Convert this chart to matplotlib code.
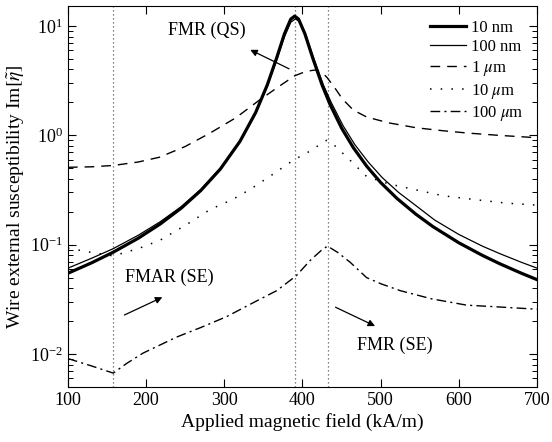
import matplotlib

matplotlib.use("Agg")
import matplotlib.pyplot as plt
from matplotlib.ticker import LogLocator, FixedLocator, NullFormatter

plt.rcParams["font.family"] = ["Liberation Serif", "DejaVu Serif"]
plt.rcParams["mathtext.fontset"] = "stix"

# 10 nm (thick solid)
x_10nm = [100, 130, 158, 190, 218, 245, 270, 295, 320, 340, 355, 367, 377, 385,
          390, 395, 403, 413, 425, 435, 450, 465, 482, 500, 521, 545, 567, 600,
          630, 652, 680, 700]
y_10nm = [0.0548, 0.0681, 0.0854, 0.1146, 0.1545, 0.216, 0.313, 0.492, 0.879,
          1.61, 2.89, 5.11, 8.49, 11.53, 12.3, 11.53, 8.49, 5.11, 2.89, 1.93,
          1.164, 0.771, 0.523, 0.370, 0.264, 0.190, 0.146, 0.104, 0.0799,
          0.0671, 0.0548, 0.0479]

# 100 nm (thin solid)
x_100nm = [100, 130, 158, 190, 218, 245, 270, 295, 320, 340, 355, 367, 377, 385,
           391, 397, 405, 415, 427, 437, 452, 467, 484, 502, 523, 547, 569, 600,
           630, 652, 680, 700]
y_100nm = [0.061, 0.075, 0.092, 0.122, 0.162, 0.223, 0.32, 0.50, 0.88, 1.58,
           2.8, 4.9, 8.0, 10.8, 11.6, 10.8, 8.0, 4.9, 2.85, 1.98, 1.22, 0.82,
           0.57, 0.41, 0.30, 0.222, 0.168, 0.124, 0.097, 0.083, 0.069, 0.061]

# 1 um (dashed)
x_1um = [100, 130, 158, 190, 217, 250, 282, 315, 345, 370, 390, 405, 416, 425,
         431, 440, 451, 465, 482, 510, 546, 580, 610, 650, 700]
y_1um = [0.51, 0.515, 0.53, 0.57, 0.63, 0.79, 1.05, 1.45, 2.1, 2.8, 3.5, 3.85,
         3.95, 3.75, 3.4, 2.8, 2.15, 1.7, 1.47, 1.3, 1.17, 1.1, 1.05, 1.0, 0.95]

# 10 um (dotted)
x_10um = [100, 130, 158, 190, 218, 250, 282, 311, 333, 360, 388, 410, 425, 431,
          440, 461, 482, 510, 546, 580, 623, 660, 700]
y_10um = [0.093, 0.085, 0.079, 0.092, 0.11, 0.15, 0.21, 0.26, 0.32, 0.43, 0.59,
          0.72, 0.85, 0.9, 0.82, 0.59, 0.42, 0.36, 0.316, 0.28, 0.257, 0.24,
          0.23]

# 100 um (dash-dot)
x_100um = [100, 130, 158, 175, 196, 239, 270, 303, 335, 367, 392, 410, 425, 432,
           445, 461, 482, 500, 525, 565, 610, 650, 700]
y_100um = [0.0091, 0.0078, 0.0067, 0.0082, 0.0102, 0.0143, 0.0175, 0.022,
           0.029, 0.038, 0.052, 0.072, 0.09, 0.097, 0.085, 0.069, 0.050, 0.044,
           0.038, 0.032, 0.028, 0.027, 0.0257]

resonance_fields = [158, 391, 432]

fig = plt.figure(figsize=(5.52, 4.42), dpi=100)
ax = fig.add_axes([0.123, 0.1244, 0.850, 0.862])

ax.plot(x_10nm, y_10nm, color="black", lw=2.3, label="10 nm")
ax.plot(x_100nm, y_100nm, color="black", lw=0.9, label="100 nm")
ax.plot(x_1um, y_1um, color="black", lw=1.0, dashes=(7, 5), label=r"1 $\mu$m")
ax.plot(x_10um, y_10um, color="black", lw=1.1, dashes=(1, 6), label=r"10 $\mu$m")
ax.plot(x_100um, y_100um, color="black", lw=1.0, dashes=(7, 3, 1.5, 3),
        label=r"100 $\mu$m")

for xv in resonance_fields:
    ax.axvline(xv, color="0.35", lw=0.9, dashes=(1, 2.2), zorder=0)

ax.set_yscale("log")
ax.set_xlim(100, 700)
ax.set_ylim(0.005, 15.2)
ax.xaxis.set_major_locator(FixedLocator([100, 200, 300, 400, 500, 600, 700]))
ax.yaxis.set_major_locator(LogLocator(base=10, numticks=10))
ax.yaxis.set_minor_locator(LogLocator(base=10, subs=range(2, 10), numticks=20))
ax.yaxis.set_minor_formatter(NullFormatter())
ax.tick_params(which="both", direction="in", top=True, right=True,
               labelsize=13)
ax.tick_params(which="major", length=6, width=0.8)
ax.tick_params(which="minor", length=3.5, width=0.7)

ax.set_xlabel("Applied magnetic field (kA/m)", fontsize=14, labelpad=3)
ax.set_ylabel(r"Wire external susceptibility Im$\left[\tilde{\eta}\right]$",
              fontsize=14, labelpad=2)

ax.annotate("", xy=(330, 6.2), xytext=(386, 3.95),
            arrowprops=dict(arrowstyle="-|>", color="black", lw=0.9,
                            mutation_scale=10))
ax.text(278, 9.2, "FMR (QS)", fontsize=13, ha="center", va="center")

ax.annotate("", xy=(224, 0.0339), xytext=(169, 0.0222),
            arrowprops=dict(arrowstyle="-|>", color="black", lw=0.9,
                            mutation_scale=10))
ax.text(230, 0.0506, "FMAR (SE)", fontsize=13, ha="center", va="center")

ax.annotate("", xy=(496, 0.0176), xytext=(439, 0.0275),
            arrowprops=dict(arrowstyle="-|>", color="black", lw=0.9,
                            mutation_scale=10))
ax.text(518, 0.012, "FMR (SE)", fontsize=13, ha="center", va="center")

ax.legend(loc="upper right", frameon=False, fontsize=12,
          handlelength=2.15, handletextpad=0.3, labelspacing=0.22,
          borderaxespad=0.0, bbox_to_anchor=(0.985, 0.982))

fig.savefig("out.png", dpi=100)
